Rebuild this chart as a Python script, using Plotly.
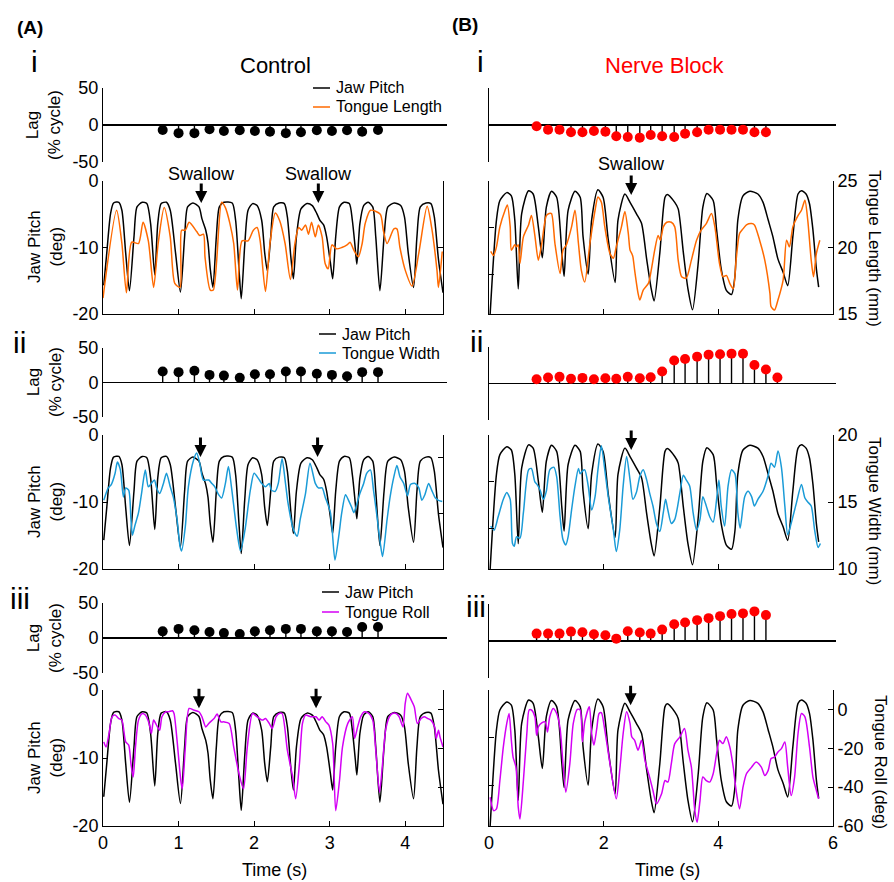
import plotly.graph_objects as go

W, H = 894, 882
def px(x): return x / W
def py(y): return 1 - y / H

FONT = "Liberation Sans, Arial, sans-serif"
ORANGE = "#FF6A00"
BLUE = "#1A9BD7"
MAGENTA = "#D400F5"
RED = "#FF0000"

# ---------------- DATA ----------------
# Control jaw pitch (deg)
jawA_t = [0.01,0.05,0.10,0.14,0.21,0.25,0.30,0.35,0.41,0.45,0.52,0.58,0.63,0.685,0.725,0.77,0.84,0.89,0.96,1.025,
          1.08,1.12,1.19,1.27,1.31,1.36,1.39,1.42,1.455,1.50,1.54,1.60,1.71,1.755,1.80,1.83,1.875,1.92,1.98,2.04,
          2.10,2.14,2.175,2.22,2.26,2.33,2.40,2.44,2.485,2.52,2.56,2.62,2.70,2.77,2.83,2.87,2.92,2.96,3.01,3.04,
          3.08,3.13,3.19,3.26,3.30,3.34,3.36,3.40,3.45,3.51,3.57,3.61,3.665,3.72,3.77,3.855,3.94,3.99,4.04,4.11,
          4.155,4.20,4.275,4.34,4.385,4.44,4.50]
jawA_v = [-15.7,-10.8,-4.9,-3.3,-3.2,-4.4,-10.8,-16.5,-8.4,-3.9,-3.2,-3.4,-6.4,-14.1,-6.4,-3.4,-3.2,-4.4,-10.8,-16.7,
          -8.4,-3.9,-3.3,-3.9,-5.7,-7.4,-9.3,-13.3,-16.0,-8.4,-3.9,-3.2,-3.3,-5.9,-13.3,-17.7,-9.8,-4.4,-3.4,-3.7,
          -5.9,-10.8,-13.5,-8.4,-3.9,-3.3,-3.4,-5.4,-11.3,-14.7,-8.4,-4.2,-3.4,-3.7,-4.9,-5.9,-6.6,-8.4,-12.3,-14.7,
          -8.4,-3.9,-3.2,-3.4,-5.9,-10.3,-12.5,-6.4,-3.7,-3.2,-3.9,-8.4,-16.5,-8.4,-3.9,-3.3,-3.7,-5.4,-10.8,-16.0,
          -8.4,-3.9,-3.3,-3.4,-5.4,-11.8,-16.8]

# Control tongue length (mm)
lenA_t = [0.00,0.18,0.25,0.31,0.38,0.47,0.53,0.60,0.67,0.73,0.81,0.89,0.95,1.02,1.04,1.09,1.14,1.24,1.28,1.33,
          1.35,1.42,1.46,1.57,1.62,1.68,1.73,1.78,1.84,1.92,1.99,2.04,2.08,2.15,2.21,2.28,2.34,2.41,2.48,2.54,
          2.59,2.63,2.68,2.72,2.76,2.81,2.85,2.90,2.94,2.98,3.03,3.09,3.16,3.23,3.27,3.32,3.38,3.43,3.47,3.54,
          3.67,3.71,3.76,3.85,3.89,3.93,4.00,4.09,4.18,4.29,4.35,4.42,4.44,4.49]
lenA_v = [16.2,22.8,20.3,16.6,20.4,20.3,21.9,20.5,17.0,20.3,23.0,20.8,17.3,17.0,21.3,21.3,21.9,21.2,20.9,21.0,
          19.3,16.8,16.8,23.4,23.0,21.8,20.3,16.8,20.5,20.5,21.3,21.5,20.5,16.7,20.3,22.6,22.0,20.3,17.6,20.3,
          21.5,21.3,21.7,21.0,21.9,20.8,21.7,20.8,18.8,18.4,20.2,19.9,20.0,20.2,20.4,19.8,19.3,20.3,21.8,22.8,
          22.5,21.3,20.3,21.4,21.4,20.0,18.3,17.1,19.6,23.1,21.5,18.3,17.0,19.7]

# Control tongue width (mm)
widA_t = [0.01,0.07,0.11,0.16,0.19,0.23,0.27,0.30,0.34,0.37,0.39,0.42,0.47,0.51,0.56,0.60,0.64,0.68,0.71,0.75,
          0.80,0.84,0.89,0.93,0.98,1.02,1.04,1.09,1.13,1.20,1.24,1.28,1.33,1.40,1.44,1.48,1.53,1.57,1.62,1.66,
          1.70,1.77,1.82,1.88,1.95,2.00,2.06,2.10,2.15,2.20,2.23,2.28,2.32,2.37,2.41,2.45,2.52,2.57,2.61,2.68,
          2.74,2.81,2.85,2.90,2.94,3.01,3.07,3.12,3.16,3.21,3.25,3.29,3.32,3.36,3.40,3.45,3.49,3.54,3.58,3.62,
          3.67,3.70,3.76,3.80,3.85,3.89,3.93,3.98,4.03,4.07,4.13,4.18,4.22,4.26,4.31,4.35,4.40,4.44,4.49]
widA_v = [16.2,17.3,17.6,18.6,19.6,18.9,16.5,17.3,17.1,14.5,13.1,13.9,15.1,16.8,18.9,17.4,17.7,18.0,17.3,16.8,
          17.7,18.6,17.4,16.5,14.5,12.1,11.7,13.9,17.4,19.8,20.4,19.5,18.0,18.0,17.7,17.4,16.7,16.4,17.7,19.2,
          17.4,13.6,11.7,13.6,17.1,18.6,18.1,17.7,17.4,17.7,17.1,17.0,17.7,19.9,18.0,15.9,13.6,13.0,14.5,16.8,
          19.5,17.7,17.3,17.3,16.5,15.1,10.9,13.0,15.1,16.7,16.2,15.6,15.1,15.9,16.8,17.7,18.6,18.9,17.1,15.1,
          12.4,11.2,14.5,16.5,18.3,19.3,18.3,17.7,16.6,17.6,17.7,17.3,16.2,16.7,17.7,17.1,16.4,16.2,16.1]

# Control tongue roll (deg)
rollA_t = [0.01,0.04,0.08,0.12,0.16,0.21,0.25,0.30,0.34,0.37,0.40,0.43,0.47,0.52,0.56,0.61,0.64,0.67,0.72,0.75,
           0.78,0.83,0.87,0.92,0.94,0.98,1.03,1.05,1.09,1.14,1.20,1.27,1.31,1.36,1.40,1.47,1.51,1.56,1.60,1.67,
           1.73,1.80,1.86,1.91,1.98,2.04,2.11,2.15,2.20,2.24,2.29,2.33,2.37,2.44,2.51,2.55,2.60,2.64,2.68,2.75,
           2.82,2.86,2.90,2.95,2.99,3.04,3.08,3.13,3.17,3.24,3.30,3.33,3.37,3.41,3.46,3.52,3.57,3.61,3.66,3.70,
           3.74,3.79,3.83,3.88,3.92,3.97,4.00,4.03,4.08,4.12,4.16,4.21,4.25,4.30,4.34,4.39,4.41,4.44,4.46,4.50]
rollA_v = [-16.7,-19.3,-12.4,-3.8,-2.9,-4.7,-5.5,-16.7,-18.4,-27.9,-34.8,-19.3,-5.5,-2.1,-2.9,-7.2,-12.4,-5.5,-9.0,-10.7,
           -3.8,-1.2,-1.2,-0.7,-2.1,-15.9,-36.6,-40.9,-19.3,0.5,-0.3,-1.2,-3.8,-9.0,-7.2,-4.7,-2.4,-6.4,-6.4,-7.2,
           -19.3,-33.1,-40.9,-19.3,-2.1,-3.8,-5.5,-4.7,-7.2,-9.8,-3.8,-2.1,-2.1,-21.0,-34.8,-46.0,-27.9,-7.2,-2.9,-3.8,
           -3.8,-5.5,-3.8,-6.4,-8.1,-17.6,-52.1,-36.6,-19.3,-7.2,-3.8,-15.0,-9.0,-3.8,-1.2,-2.1,-5.5,-21.0,-42.6,-27.9,
           -10.7,-3.8,-2.1,-2.1,-3.8,-9.0,3.1,8.3,4.8,1.4,-7.2,-4.7,-3.8,-4.7,-5.5,-9.0,-15.0,-10.7,-14.1,-19.3]

# Nerve block jaw pitch (deg)
jawB_t = [0.02,0.13,0.19,0.31,0.39,0.45,0.51,0.57,0.69,0.77,0.86,0.93,1.00,1.09,1.18,1.27,1.31,1.38,1.50,1.59,
          1.64,1.73,1.79,1.90,1.99,2.08,2.20,2.25,2.37,2.46,2.57,2.66,2.75,2.83,2.88,2.98,3.07,3.11,3.24,3.30,
          3.39,3.47,3.55,3.65,3.73,3.80,3.91,3.97,4.05,4.14,4.23,4.29,4.34,4.43,4.55,4.69,4.78,4.87,4.95,5.04,
          5.13,5.21,5.30,5.39,5.45,5.53,5.59,5.65,5.71,5.75]
jawB_v = [-28.6,-8.4,-4.2,-2.5,-3.2,-8.4,-23.2,-7.0,-2.1,-2.8,-9.8,-16.5,-5.6,-2.2,-3.5,-15.4,-20.5,-6.3,-2.2,-3.5,
          -11.9,-20.0,-8.4,-1.9,-3.5,-12.6,-21.8,-8.4,-2.8,-4.6,-7.0,-9.1,-16.8,-23.2,-25.8,-15.4,-3.5,-2.9,-4.6,-6.0,
          -15.4,-23.2,-27.7,-17.5,-5.6,-2.7,-4.2,-10.5,-18.9,-23.5,-24.4,-20.4,-8.4,-3.2,-2.2,-2.8,-4.6,-8.4,-11.9,-16.8,
          -19.6,-22.5,-11.9,-2.8,-2.1,-2.8,-4.9,-10.5,-18.9,-22.8]

# Nerve block tongue length (mm)
lenB_t = [0.03,0.08,0.13,0.19,0.28,0.32,0.37,0.39,0.45,0.48,0.51,0.54,0.60,0.69,0.74,0.80,0.86,0.92,1.00,1.05,
          1.09,1.15,1.24,1.29,1.35,1.44,1.50,1.56,1.61,1.67,1.76,1.85,1.90,1.96,2.02,2.11,2.17,2.22,2.31,2.37,
          2.43,2.46,2.49,2.51,2.54,2.60,2.63,2.69,2.78,2.83,2.89,2.95,2.99,3.04,3.10,3.18,3.24,3.30,3.36,3.44,
          3.53,3.62,3.70,3.79,3.88,3.94,4.02,4.08,4.14,4.20,4.26,4.31,4.37,4.43,4.49,4.58,4.63,4.72,4.81,4.90,
          4.92,4.98,5.04,5.13,5.19,5.24,5.30,5.39,5.45,5.51,5.56,5.62,5.66,5.71,5.77]
lenB_v = [19.7,19.4,20.05,21.55,22.8,23.2,21.55,19.8,20.2,20.05,20.2,18.8,20.8,21.7,22.4,20.9,19.05,20.3,22.4,22.55,
          22.55,20.3,18.05,19.8,20.2,21.55,22.8,20.3,18.3,17.4,20.3,22.8,23.8,23.4,21.55,19.55,19.2,20.05,21.55,22.7,
          21.05,19.8,19.55,19.3,18.3,16.55,16.05,16.8,17.3,18.3,19.8,20.9,20.55,21.55,21.9,21.9,21.55,19.05,17.8,17.7,
          19.05,20.55,21.3,21.8,22.55,21.55,18.8,17.8,17.9,17.3,16.9,19.05,21.05,21.4,21.7,21.8,21.7,20.55,19.05,16.55,
          15.55,15.3,16.05,17.55,20.55,20.05,21.55,22.4,22.8,23.55,22.05,19.05,17.8,19.55,20.55]

# Nerve block tongue width (mm)
widB_t = [0.03,0.09,0.16,0.25,0.31,0.37,0.41,0.44,0.48,0.54,0.60,0.69,0.74,0.80,0.84,0.89,0.95,1.00,1.06,1.13,
          1.18,1.24,1.29,1.34,1.38,1.44,1.50,1.56,1.59,1.63,1.67,1.73,1.79,1.85,1.90,1.96,2.02,2.08,2.17,2.22,
          2.28,2.34,2.40,2.46,2.51,2.57,2.63,2.69,2.75,2.80,2.86,2.92,2.98,3.04,3.08,3.12,3.18,3.24,3.33,3.39,
          3.44,3.50,3.56,3.62,3.68,3.73,3.79,3.85,3.91,3.97,4.01,4.05,4.11,4.17,4.23,4.29,4.34,4.38,4.46,4.52,
          4.58,4.63,4.69,4.78,4.87,4.92,4.98,5.04,5.10,5.16,5.21,5.27,5.36,5.45,5.51,5.56,5.62,5.68,5.74,5.78]
widB_v = [13.2,12.9,13.9,15.2,15.7,15.2,11.9,11.7,12.4,12.3,14.2,17.4,17.5,16.5,16.3,15.9,15.2,15.8,17.4,17.6,
          16.9,13.9,12.2,11.8,12.4,14.4,16.2,17.5,17.1,17.3,17.4,16.2,14.4,15.4,17.4,19.2,17.4,15.4,12.9,11.3,
          12.9,16.2,18.4,16.65,15.2,15.7,16.9,17.4,16.65,15.7,14.7,13.4,12.8,14.2,15.2,14.4,13.4,13.7,15.7,17.0,
          16.65,16.2,14.2,12.9,13.7,15.4,14.7,13.9,13.5,15.2,16.65,14.7,13.2,16.2,17.4,17.1,14.2,13.05,15.4,15.8,
          15.4,14.7,15.2,15.8,17.0,17.9,17.6,18.8,17.6,14.7,12.55,13.4,14.9,16.3,15.3,15.0,14.7,12.9,11.6,11.9]

# Nerve block tongue roll (deg)
rollB_t = [0.02,0.08,0.13,0.19,0.25,0.31,0.35,0.39,0.42,0.47,0.51,0.54,0.60,0.66,0.70,0.74,0.80,0.83,0.86,0.92,
           0.98,1.02,1.06,1.12,1.18,1.24,1.29,1.34,1.41,1.47,1.54,1.59,1.63,1.67,1.75,1.79,1.83,1.88,1.92,1.96,
           2.02,2.11,2.22,2.28,2.34,2.40,2.46,2.49,2.54,2.60,2.66,2.72,2.80,2.86,2.92,3.01,3.07,3.12,3.18,3.24,
           3.33,3.41,3.47,3.53,3.59,3.63,3.68,3.73,3.79,3.85,3.91,3.97,4.02,4.08,4.14,4.20,4.26,4.31,4.37,4.43,
           4.49,4.58,4.66,4.75,4.81,4.87,4.92,4.98,5.04,5.10,5.16,5.21,5.27,5.33,5.39,5.45,5.51,5.59,5.65,5.71,5.75]
rollB_v = [-45.2,-52.1,-51.2,-36.6,-19.3,-7.2,-2.1,-15.9,-24.5,-29.7,-50.3,-56.4,-36.6,-12.4,-0.3,-0.3,-3.8,-13.3,-9.0,-6.9,
           -6.4,-11.6,-3.8,0.5,-2.1,-9.8,-27.9,-42.6,-27.9,-7.2,0.0,-0.3,-16.7,-6.4,1.4,-12.4,-18.4,-9.8,-2.1,-1.7,
           -10.7,-27.9,-46.0,-31.4,-12.4,-1.2,-7.2,-14.1,-15.9,-21.0,-15.9,-26.2,-34.8,-41.7,-48.6,-43.4,-36.6,-37.4,-27.9,-17.6,
           -14.1,-9.8,-21.0,-29.7,-52.1,-58.1,-46.9,-34.8,-36.6,-37.4,-33.1,-22.8,-15.9,-17.6,-14.1,-19.3,-29.7,-41.7,-51.2,-40.0,
           -33.1,-29.7,-27.1,-29.7,-34.0,-31.4,-25.3,-24.5,-21.9,-20.2,-16.7,-29.7,-44.3,-34.8,-12.4,-2.1,-3.8,-19.3,-34.8,-41.7,-46.0]

# Lag (% cycle)
lagA_t = [0.79, 1.00, 1.21, 1.41, 1.60, 1.81, 2.01, 2.21, 2.42, 2.62, 2.83, 3.03, 3.23, 3.43, 3.64]
lagA_len = [-6.7, -11, -11, -5.8, -8, -7, -8, -9, -11, -9.8, -7, -8, -7, -9, -6.7]
lagA_wid = [16, 15, 17, 11, 10, 7, 12, 12, 16, 16, 12.6, 11, 9, 15, 15]
lagA_roll = [9.5, 13, 11, 8.6, 7, 5.7, 9.5, 11, 13, 13, 9.5, 9.5, 8.6, 15.7, 15.7]
lagB_t = [0.83, 1.03, 1.23, 1.43, 1.63, 1.83, 2.03, 2.22, 2.42, 2.63, 2.82, 3.02, 3.23, 3.42, 3.63, 3.83,
          4.03, 4.23, 4.43, 4.63, 4.83, 5.03]
lagB_len = [-1.8, -6.3, -6.3, -9.9, -9.9, -8.1, -9, -15.3, -16.2, -17.1, -13.5, -15.3, -16.2, -11.7, -9.9,
            -6.3, -6.3, -6.3, -6.3, -9.9, -9.9]
lagB_wid = [5.9, 8.2, 9.1, 6.4, 7.7, 5.9, 7.3, 6.4, 9.1, 7.3, 8.6, 16.4, 31.4, 33.6, 36.8, 39.5, 40, 40.9,
            40.9, 25.4, 19.1, 8.2]
lagB_roll = [10, 10, 10, 12.7, 11.8, 9.1, 7.7, 3.2, 13.2, 11.4, 10, 15.4, 22.7, 25, 28.2, 30.9, 33.6, 36.4,
             37.3, 40, 35]

swallowA = [1.30, 2.85]
swallowB = [2.48]

# ---------------- FIGURE ----------------
fig = go.Figure()
layout = {}
annotations = []
shapes = []
counters = {'x': 0, 'y': 0}

tickfont = dict(family=FONT, size=18, color='black')
base = dict(showline=True, linecolor='black', linewidth=1, ticks='inside', ticklen=5, tickwidth=1,
            tickcolor='black', showgrid=False, zeroline=False, tickfont=tickfont, fixedrange=True,
            automargin=False)

def new_axis(kind, **kw):
    counters[kind] += 1
    n = counters[kind]
    name = f'{kind}axis' if n == 1 else f'{kind}axis{n}'
    d = dict(base)
    d.update(kw)
    layout[name] = d
    return kind if n == 1 else f'{kind}{n}'

# pixel rows: (lag top, lag bottom, series top, series bottom)
rowsA = [(88, 162, 181, 314), (348, 417, 435, 569), (603, 673, 690, 826)]
rowsB = [(88, 162, 181, 314), (347, 420, 435, 569), (604, 678, 690, 826)]

def lag_panel(col, row, t, v, show_labels):
    rows = rowsA if col == 'A' else rowsB
    top, bot = rows[row][0], rows[row][1]
    if col == 'A':
        xd = [px(103), px(447)]; xr = [0, 4.5 * 344 / 340]
        color = 'black'
    else:
        xd = [px(489), px(836)]; xr = [0, 6 * 347 / 344]
        color = RED
    n_next = counters['y'] + 1
    yname = 'y' if n_next == 1 else f'y{n_next}'
    xn = new_axis('x', domain=xd, range=xr, visible=False, anchor=yname)
    yn = new_axis('y', domain=[py(bot), py(top)], range=[-50, 50], anchor=xn,
                  tickvals=[-50, 0, 50], ticktext=['-50', '0', '50'], showticklabels=show_labels,
                  zeroline=True, zerolinecolor='black', zerolinewidth=1.3)
    sx, sy = [], []
    for ti, vi in zip(t, v):
        sx += [ti, ti, None]
        sy += [0, vi, None]
    fig.add_trace(go.Scatter(x=sx, y=sy, mode='lines', line=dict(color='black', width=1.4),
                             xaxis=xn, yaxis=yn, showlegend=False, hoverinfo='skip'))
    fig.add_trace(go.Scatter(x=t, y=v, mode='markers', marker=dict(color=color, size=10, line=dict(width=0)),
                             xaxis=xn, yaxis=yn, showlegend=False))
    return xn, yn

def ts_panel(col, row, jt, jv, tt, tv, tcolor, right_range, right_ticks, show_right_labels):
    rows = rowsA if col == 'A' else rowsB
    top, bot = rows[row][2], rows[row][3]
    last = (row == 2)
    if col == 'A':
        xd = [px(103), px(443)]; xr = [0, 4.5]; xt = [0, 1, 2, 3, 4]
        lrange = [-20, 0]; lshow = True
    else:
        xd = [px(489), px(833)]; xr = [0, 6]; xt = [0, 2, 4, 6]
        lrange = [-28.6, 0]; lshow = False
    lt = [-20, -10, 0]; ltxt = ['-20', '-10', '0']
    n_next = counters['y'] + 1
    yname = 'y' if n_next == 1 else f'y{n_next}'
    xn = new_axis('x', domain=xd, range=xr, anchor=yname, tickvals=xt, ticktext=[str(v) for v in xt],
                  showticklabels=last)
    yl = new_axis('y', domain=[py(bot), py(top)], range=lrange, anchor=xn, tickvals=lt, ticktext=ltxt,
                  showticklabels=lshow)
    yr = new_axis('y', range=right_range, anchor=xn, overlaying=yl, side='right',
                  tickvals=right_ticks, ticktext=[str(v) for v in right_ticks],
                  showticklabels=show_right_labels)
    fig.add_trace(go.Scatter(x=jt, y=jv, mode='lines', line=dict(color='black', width=1.5, shape='spline', smoothing=0.7),
                             xaxis=xn, yaxis=yl, showlegend=False))
    fig.add_trace(go.Scatter(x=tt, y=tv, mode='lines', line=dict(color=tcolor, width=1.5, shape='spline', smoothing=0.7),
                             xaxis=xn, yaxis=yr, showlegend=False))
    return xn, yl

def arrow(xn, yn, t, ytip):
    annotations.append(dict(x=t, y=ytip, xref=xn, yref=yn, text='', showarrow=True, arrowhead=2,
                            arrowsize=0.8, arrowwidth=3, arrowcolor='black', ax=0, ay=-21))

def text(x, y, s, size=17, color='black', angle=0, xanchor='center', yanchor='middle'):
    annotations.append(dict(x=px(x), y=py(y), xref='paper', yref='paper', text=s, showarrow=False,
                            font=dict(family=FONT, size=size, color=color), textangle=angle,
                            xanchor=xanchor, yanchor=yanchor))

# ----- column A -----
lag_panel('A', 0, lagA_t, lagA_len, True)
xa1, ya1 = ts_panel('A', 0, jawA_t, jawA_v, lenA_t, lenA_v, ORANGE, [15, 25], [15, 20, 25], False)
lag_panel('A', 1, lagA_t, lagA_wid, True)
xa2, ya2 = ts_panel('A', 1, jawA_t, jawA_v, widA_t, widA_v, BLUE, [10.1, 22.0], [15, 20], False)
lag_panel('A', 2, lagA_t, lagA_roll, True)
xa3, ya3 = ts_panel('A', 2, jawA_t, jawA_v, rollA_t, rollA_v, MAGENTA, [-60, 10], [-60, -40, -20, 0], False)

# ----- column B -----
lag_panel('B', 0, lagB_t[:len(lagB_len)], lagB_len, False)
xb1, yb1 = ts_panel('B', 0, jawB_t, jawB_v, lenB_t, lenB_v, ORANGE, [15, 25], [15, 20, 25], True)
lag_panel('B', 1, lagB_t[:len(lagB_wid)], lagB_wid, False)
xb2, yb2 = ts_panel('B', 1, jawB_t, jawB_v, widB_t, widB_v, BLUE, [10, 20], [10, 15, 20], True)
lag_panel('B', 2, lagB_t[:len(lagB_roll)], lagB_roll, False)
xb3, yb3 = ts_panel('B', 2, jawB_t, jawB_v, rollB_t, rollB_v, MAGENTA, [-60, 10], [-60, -40, -20, 0], True)

# swallow arrows
for t in swallowA:
    arrow(xa1, ya1, t, -3.3)
    arrow(xa2, ya2, t - 0.01, -3.3)
    arrow(xa3, ya3, t - 0.03, -2.7)
    annotations.append(dict(x=t, y=py(174), xref=xa1, yref='paper', text='Swallow', showarrow=False,
                            font=dict(family=FONT, size=18, color='black'), xanchor='center', yanchor='middle'))
for t in swallowB:
    arrow(xb1, yb1, t, -3.0)
    arrow(xb2, yb2, t, -3.2)
    arrow(xb3, yb3, t - 0.01, -3.2)
    annotations.append(dict(x=t, y=py(164), xref=xb1, yref='paper', text='Swallow', showarrow=False,
                            font=dict(family=FONT, size=18, color='black'), xanchor='center', yanchor='middle'))

# labels
text(30, 27, '<b>(A)</b>', size=19)
text(465, 25, '<b>(B)</b>', size=19)
text(275, 66, 'Control', size=22)
text(665, 65, 'Nerve Block', size=22, color=RED)
text(34, 61, 'i', size=30)
text(19, 342, 'ii', size=30)
text(20, 598, 'iii', size=30)
text(480, 61, 'i', size=30)
text(477, 341, 'ii', size=30)
text(476, 606, 'iii', size=30)

for yc in (125, 382, 638):
    text(44, yc, 'Lag<br>(% cycle)', size=17, angle=-90)
for yc in (247, 502, 758):
    text(45, yc, 'Jaw Pitch<br>(deg)', size=17, angle=-90)

text(875, 248, 'Tongue Length (mm)', size=17, angle=90)
text(875, 511, 'Tongue Width (mm)', size=17, angle=90)
text(881, 762, 'Tongue Roll (deg)', size=17, angle=90)
text(274, 870, 'Time (s)', size=18)
text(667, 870, 'Time (s)', size=18)

# manual legends
legends = [(88, 107, 313, 'Tongue Length', ORANGE), (334, 353, 319, 'Tongue Width', BLUE),
           (592, 612, 322, 'Tongue Roll', MAGENTA)]
for y1, y2, x0, lab, c in legends:
    shapes.append(dict(type='line', xref='paper', yref='paper', x0=px(x0), x1=px(x0 + 17), y0=py(y1), y1=py(y1),
                       line=dict(color='black', width=1.5)))
    shapes.append(dict(type='line', xref='paper', yref='paper', x0=px(x0), x1=px(x0 + 17), y0=py(y2), y1=py(y2),
                       line=dict(color=c, width=1.5)))
    text(x0 + 21, y1, 'Jaw Pitch', size=16, xanchor='left')
    text(x0 + 21, y2, lab, size=16, xanchor='left')

layout.update(dict(width=W, height=H, autosize=False, margin=dict(l=0, r=0, t=0, b=0),
                   paper_bgcolor='white', plot_bgcolor='rgba(0,0,0,0)', showlegend=False,
                   annotations=annotations, shapes=shapes, font=dict(family=FONT, color='black')))
fig.update_layout(**layout)
fig.write_html("out.html", config={'displayModeBar': False, 'staticPlot': True},
               post_script="document.body.style.margin='0';document.body.style.padding='0';"
                           "document.documentElement.style.overflow='hidden';")
